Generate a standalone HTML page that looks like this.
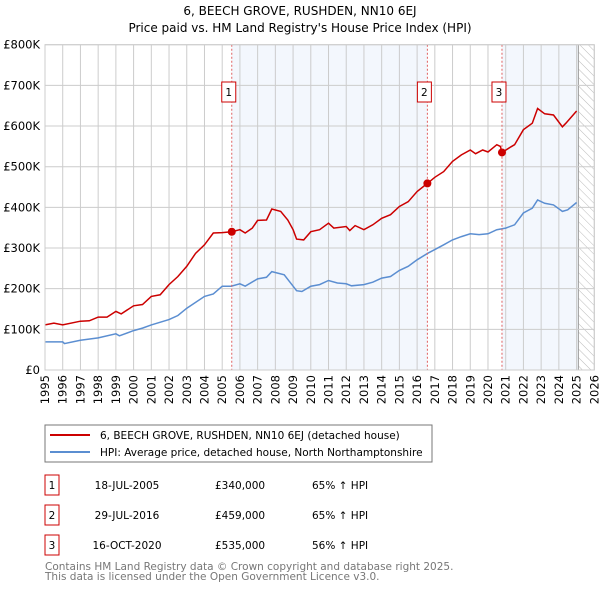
<!DOCTYPE html>
<html><head><meta charset="utf-8"><style>
body{margin:0;background:#fff;font-family:"DejaVu Sans","Liberation Sans",sans-serif;}
svg text{font-family:"DejaVu Sans","Liberation Sans",sans-serif;}
</style></head><body>
<svg id="chart" width="600" height="590" viewBox="0 0 600 590" xmlns="http://www.w3.org/2000/svg">
<defs><pattern id="hatch" width="6" height="6" patternUnits="userSpaceOnUse" patternTransform="rotate(-45)"><line x1="0" y1="0" x2="0" y2="6" stroke="#bbb" stroke-width="1"/></pattern></defs>
<text x="300" y="15" text-anchor="middle" font-size="12">6, BEECH GROVE, RUSHDEN, NN10 6EJ</text>
<text x="300" y="32" text-anchor="middle" font-size="12">Price paid vs. HM Land Registry's House Price Index (HPI)</text>
<g id="bands"></g><g id="grid"></g><g id="series"></g><g id="marks"></g>
<rect x="45" y="44.7" width="549.3" height="325.3" fill="none" stroke="#ccc"/>
<g>
<rect x="45" y="425" width="387" height="37" fill="#fff" stroke="#777"/>
<line x1="50" y1="435" x2="90" y2="435" stroke="#cc0000" stroke-width="2"/>
<text x="100" y="439" font-size="10.5">6, BEECH GROVE, RUSHDEN, NN10 6EJ (detached house)</text>
<line x1="50" y1="452" x2="90" y2="452" stroke="#5b8ed1" stroke-width="2"/>
<text x="100" y="456" font-size="10.5">HPI: Average price, detached house, North Northamptonshire</text>
</g>
<g id="table" font-size="10.5"></g>
<text x="45" y="570" font-size="10.5" fill="#777">Contains HM Land Registry data © Crown copyright and database right 2025.</text>
<text x="45" y="580" font-size="10.5" fill="#777">This data is licensed under the Open Government Licence v3.0.</text>
</svg>
<script>
const hpiYears=[1995,1996,1996.1,1997,1998,1999,1999.2,2000,2000.5,2001,2002,2002.5,2003,2004,2004.5,2005,2005.5,2006,2006.3,2007,2007.5,2007.8,2008.5,2009,2009.2,2009.5,2010,2010.5,2011,2011.5,2012,2012.3,2013,2013.5,2014,2014.5,2015,2015.5,2016,2016.6,2017,2017.5,2018,2018.5,2019,2019.5,2020,2020.5,2021,2021.5,2022,2022.5,2022.8,2023.2,2023.7,2024.2,2024.5,2025];
const hpiValues=[69,69,65,73,79,89,84,97,103,111,124,134,152,181,187,206,206,212,206,224,228,242,234,206,195,193,206,210,220,214,212,207,210,216,226,230,245,255,271,287,296,308,320,328,335,333,335,345,349,357,386,398,418,410,406,390,394,412];
const propYears=[1995,1995.5,1996,1997,1997.5,1998,1998.5,1999,1999.3,2000,2000.5,2001,2001.5,2002,2002.5,2003,2003.5,2004,2004.5,2005,2005.54,2006,2006.3,2006.7,2007,2007.5,2007.8,2008.3,2008.7,2009,2009.2,2009.6,2010,2010.5,2011,2011.3,2012,2012.2,2012.5,2013,2013.5,2014,2014.5,2015,2015.5,2016,2016.58,2017,2017.5,2018,2018.5,2019,2019.3,2019.7,2020,2020.5,2020.7,2020.79,2021.3,2021.5,2022,2022.5,2022.8,2023.2,2023.7,2024.2,2024.4,2025];
const propValues=[111,115,111,120,121,130,130,144,138,158,161,181,185,210,230,255,287,308,337,338,340,345,337,349,368,369,396,390,369,345,322,320,340,345,361,349,353,343,355,345,357,373,382,402,414,439,459,474,488,513,529,541,532,541,536,554,550,535,549,554,591,607,643,630,627,598,607,637];
const saleYears=[2005.54,2016.58,2020.79];
const saleValues=[340,459,535];
const saleLabels=["1","2","3"];
const saleDates=["18-JUL-2005","29-JUL-2016","16-OCT-2020"];
const salePrices=["£340,000","£459,000","£535,000"];
const saleDiffs=["65% ↑ HPI","65% ↑ HPI","56% ↑ HPI"];
const yTicks=[0,100,200,300,400,500,600,700,800];
const yTickLabels=["£0","£100K","£200K","£300K","£400K","£500K","£600K","£700K","£800K"];
const xTicks=[1995,1996,1997,1998,1999,2000,2001,2002,2003,2004,2005,2006,2007,2008,2009,2010,2011,2012,2013,2014,2015,2016,2017,2018,2019,2020,2021,2022,2023,2024,2025,2026];
const dataEnd=2025.1;
const X0=45,X1=594.3,Y0=370,Y1=44.7;
const xs=y=>X0+(y-1995)/(2026-1995)*(X1-X0);
const ys=v=>Y0-v/800*(Y0-Y1);
const NS="http://www.w3.org/2000/svg";
function mk(parent,tag,attrs){const e=document.createElementNS(NS,tag);for(const k in attrs)e.setAttribute(k,attrs[k]);document.getElementById(parent).appendChild(e);return e;}
let b1=mk('bands','rect',{x:xs(saleYears[0]),y:Y1,width:xs(saleYears[1])-xs(saleYears[0]),height:Y0-Y1,fill:'#eef3fc',opacity:0.7});


let b2=mk('bands','rect',{x:xs(saleYears[2]),y:Y1,width:xs(dataEnd)-xs(saleYears[2]),height:Y0-Y1,fill:'#eef3fc',opacity:0.7});


let hz=mk('bands','rect',{x:xs(dataEnd),y:Y1,width:X1-xs(dataEnd),height:Y0-Y1,fill:'url(#hatch)'});


let hl=mk('bands','line',{x1:xs(dataEnd),x2:xs(dataEnd),y1:Y1,y2:Y0,stroke:'#999','stroke-width':1});


yTicks.forEach((t,i)=>{
 let l=mk('grid','line',{x1:X0,x2:X1,y1:ys(t),y2:ys(t),stroke:'#ccc'});
 
 
 let tx=mk('grid','text',{x:40,y:ys(t)+4,'text-anchor':'end','font-size':'11.5'});
 tx.textContent=yTickLabels[i];
 
 
});
xTicks.forEach(t=>{
 let l=mk('grid','line',{x1:xs(t),x2:xs(t),y1:Y1,y2:Y0,stroke:'#ccc'});
 
 
 const tx0=xs(t)+4,ty0=375;
 let tx=mk('grid','text',{x:tx0,y:ty0,'text-anchor':'end','font-size':'11.5',transform:'rotate(-90 '+tx0+' '+ty0+')'});
 tx.textContent=t;
 
 
});
function path(xa,va){return xa.map((x,i)=>(i?'L':'M')+xs(x).toFixed(1)+','+ys(va[i]).toFixed(1)).join('');}
let hp=mk('series','path',{d:path(hpiYears,hpiValues),fill:'none',stroke:'#5b8ed1','stroke-width':1.5});


let pp=mk('series','path',{d:path(propYears,propValues),fill:'none',stroke:'#cc0000','stroke-width':1.5});


saleYears.forEach((y,i)=>{
 let vl=mk('marks','line',{x1:xs(y),x2:xs(y),y1:Y1,y2:Y0,stroke:'#e06060','stroke-dasharray':'2,2','stroke-width':1});
 
 
 let c=mk('marks','circle',{cx:xs(y),cy:ys(saleValues[i]),r:4,fill:'#cc0000'});
 
 
 let r=mk('marks','rect',{x:xs(y)-10,y:82,width:14,height:20,fill:'#fff',stroke:'#cc0000'});
 
 
 let t=mk('marks','text',{x:xs(y)-3,y:96,'text-anchor':'middle','font-size':'10.5'});
 t.textContent=saleLabels[i];
 
 
 const ty=[485,515,545][i];
 let br=mk('table','rect',{x:45,y:ty-10,width:14,height:20,fill:'#fff',stroke:'#cc0000'});
 
 
 let bt=mk('table','text',{x:52,y:ty+4,'text-anchor':'middle'});
 bt.textContent=saleLabels[i];
 
 
 let d=mk('table','text',{x:127,y:ty+4,'text-anchor':'middle'});
 d.textContent=saleDates[i];
 
 
 let p=mk('table','text',{x:215,y:ty+4});
 p.textContent=salePrices[i];
 
 
 let h=mk('table','text',{x:312,y:ty+4});
 h.textContent=saleDiffs[i];
 
 
});
</script>
</body></html>
